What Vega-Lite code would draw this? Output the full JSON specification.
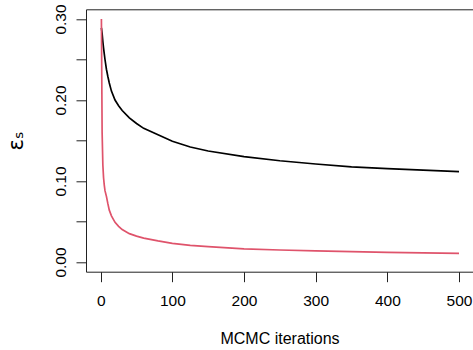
{
  "$schema": "https://vega.github.io/schema/vega-lite/v6.json",
  "width": 387,
  "height": 262.4,
  "autosize": "none",
  "padding": {"left": 86, "top": 9.3, "right": 0, "bottom": 78.3},
  "background": "white",
  "config": {
    "view": {"stroke": "#222", "strokeWidth": 1},
    "font": "Liberation Sans"
  },
  "datasets": {
    "eps": [
      {"iter": 1, "black": 0.289, "red": 0.300},
      {"iter": 2, "black": 0.282, "red": 0.160},
      {"iter": 3, "black": 0.272, "red": 0.120},
      {"iter": 4, "black": 0.264, "red": 0.104},
      {"iter": 5, "black": 0.257, "red": 0.095},
      {"iter": 6, "black": 0.250, "red": 0.088},
      {"iter": 8, "black": 0.238, "red": 0.081},
      {"iter": 10, "black": 0.229, "red": 0.072},
      {"iter": 12, "black": 0.221, "red": 0.064},
      {"iter": 15, "black": 0.211, "red": 0.057},
      {"iter": 20, "black": 0.200, "red": 0.049},
      {"iter": 25, "black": 0.193, "red": 0.044},
      {"iter": 30, "black": 0.187, "red": 0.040},
      {"iter": 40, "black": 0.178, "red": 0.035},
      {"iter": 50, "black": 0.171, "red": 0.032},
      {"iter": 60, "black": 0.165, "red": 0.0295},
      {"iter": 80, "black": 0.157, "red": 0.026},
      {"iter": 100, "black": 0.149, "red": 0.023},
      {"iter": 125, "black": 0.142, "red": 0.0205},
      {"iter": 150, "black": 0.137, "red": 0.019},
      {"iter": 200, "black": 0.130, "red": 0.0163},
      {"iter": 250, "black": 0.125, "red": 0.0148},
      {"iter": 300, "black": 0.121, "red": 0.0136},
      {"iter": 350, "black": 0.1175, "red": 0.0127},
      {"iter": 400, "black": 0.1152, "red": 0.0119},
      {"iter": 450, "black": 0.1133, "red": 0.0113},
      {"iter": 500, "black": 0.1115, "red": 0.0107}
    ]
  },
  "data": {"name": "eps"},
  "transform": [{"fold": ["black", "red"], "as": ["series", "eps"]}],
  "mark": {"type": "line", "strokeWidth": 1.7, "clip": true},
  "encoding": {
    "x": {
      "field": "iter", "type": "quantitative",
      "scale": {"domain": [-20.5, 519.5], "nice": false, "zero": false},
      "axis": {
        "values": [0, 100, 200, 300, 400, 500],
        "format": "d",
        "grid": false, "domain": false,
        "tickSize": 10, "tickColor": "#222", "tickWidth": 1,
        "labelFontSize": 15.5, "labelColor": "#000", "labelPadding": 12,
        "labelFlush": false,
        "title": "MCMC iterations",
        "titleFontSize": 16, "titleFontWeight": "normal", "titleColor": "#000",
        "titleBaseline": "alphabetic", "titleY": 72
      }
    },
    "y": {
      "field": "eps", "type": "quantitative",
      "scale": {"domain": [-0.012, 0.312], "nice": false, "zero": false},
      "axis": {
        "values": [0, 0.05, 0.1, 0.15, 0.2, 0.25, 0.3],
        "labelExpr": "round(datum.value*20) % 2 == 0 ? format(datum.value, '.2f') : ''",
        "grid": false, "domain": false,
        "tickSize": 10, "tickColor": "#222", "tickWidth": 1,
        "labelFontSize": 15.5, "labelColor": "#000",
        "labelAngle": -90, "labelAlign": "center", "labelBaseline": "alphabetic",
        "labelPadding": 10.7, "labelFlush": false,
        "title": "εₛ",
        "titleFont": "DejaVu Sans",
        "titleFontSize": 21, "titleFontWeight": "normal", "titleColor": "#000",
        "titleAngle": -90, "titleBaseline": "alphabetic", "titleX": -64, "titleY": 131.2,
        "titleAlign": "center"
      }
    },
    "color": {
      "field": "series", "type": "nominal",
      "scale": {"domain": ["black", "red"], "range": ["#000000", "#DF536B"]},
      "legend": null
    }
  }
}
